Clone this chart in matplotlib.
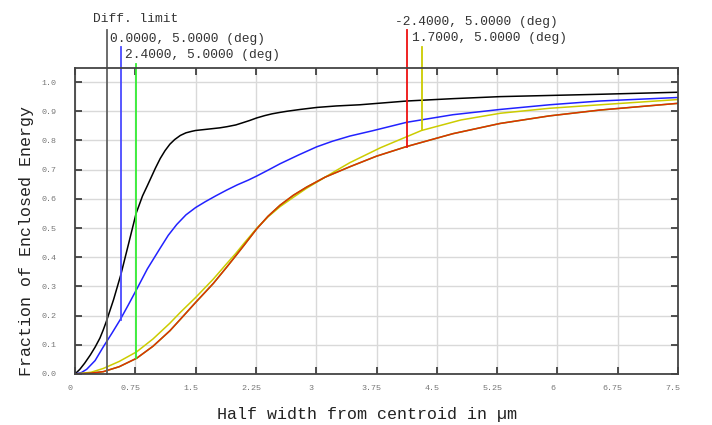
import matplotlib
matplotlib.use("Agg")
import matplotlib.pyplot as plt
import matplotlib.transforms as mtransforms

# encircled energy curves
diff_x = [0, 0.06, 0.12, 0.19, 0.25, 0.31, 0.35, 0.39, 0.48, 0.57, 0.67, 0.76, 0.84, 0.9, 0.95, 1.0,
          1.06, 1.12, 1.18, 1.24, 1.31, 1.38, 1.45, 1.5, 1.6, 1.7, 1.8, 1.89, 2.0, 2.08, 2.17, 2.26,
          2.36, 2.45, 2.55, 2.64, 2.8, 3.01, 3.25, 3.54, 4.13, 4.7, 5.29, 6.53, 7.5]
diff_y = [0, 0.016, 0.037, 0.065, 0.092, 0.123, 0.15, 0.18, 0.255, 0.34, 0.45, 0.55, 0.61, 0.645, 0.675, 0.705,
          0.738, 0.765, 0.787, 0.803, 0.817, 0.826, 0.831, 0.834, 0.837, 0.84, 0.843, 0.847, 0.853, 0.86, 0.868, 0.877,
          0.885, 0.891, 0.896, 0.90, 0.906, 0.913, 0.918, 0.922, 0.935, 0.943, 0.95, 0.958, 0.965]

f0_x = [0, 0.08, 0.145, 0.25, 0.352, 0.46, 0.56, 0.66, 0.767, 0.9, 1.057, 1.16, 1.265, 1.38, 1.5, 1.62, 1.75,
        1.887, 2.02, 2.155, 2.26, 2.4, 2.55, 2.78, 3.006, 3.2, 3.42, 3.7, 4.125, 4.7, 5.286, 5.9, 6.53, 7.5]
f0_y = [0, 0.005, 0.016, 0.046, 0.093, 0.14, 0.185, 0.235, 0.29, 0.36, 0.43, 0.475, 0.512, 0.545, 0.57, 0.59, 0.61,
        0.63, 0.648, 0.664, 0.678, 0.698, 0.72, 0.75, 0.778, 0.797, 0.815, 0.833, 0.862, 0.888, 0.906, 0.922, 0.935, 0.947]

f17_x = [0, 0.2, 0.352, 0.55, 0.767, 0.97, 1.18, 1.306, 1.5, 1.72, 1.887, 2.0, 2.1, 2.26, 2.4, 2.55,
         2.715, 2.88, 3.05, 3.25, 3.42, 3.8, 4.31, 4.8, 5.29, 5.9, 6.53, 7.5]
f17_y = [0, 0.006, 0.019, 0.043, 0.076, 0.12, 0.174, 0.21, 0.262, 0.325, 0.378, 0.413, 0.447, 0.499, 0.538, 0.573,
         0.605, 0.636, 0.664, 0.697, 0.724, 0.775, 0.834, 0.87, 0.893, 0.91, 0.922, 0.94]

f24_x = [0, 0.2, 0.352, 0.55, 0.767, 0.97, 1.18, 1.306, 1.5, 1.72, 1.887, 2.0, 2.1, 2.26, 2.4, 2.55,
         2.715, 2.88, 3.11, 3.42, 3.75, 4.125, 4.7, 5.286, 5.9, 6.53, 7.5]
f24_y = [0, 0.003, 0.008, 0.025, 0.054, 0.095, 0.148, 0.186, 0.245, 0.31, 0.366, 0.405, 0.44, 0.497, 0.54, 0.578,
         0.612, 0.64, 0.674, 0.71, 0.746, 0.779, 0.823, 0.858, 0.884, 0.904, 0.927]

# marker lines: x, bottom, top
marks = {
    "diff": (0.40, 0.0, 1.178),
    "f0": (0.57, 0.185, 1.12),
    "f24": (0.76, 0.054, 1.062),
    "fm24": (4.13, 0.779, 1.178),
    "f17": (4.32, 0.834, 1.12),
}
labels = {
    "diff": "Diff. limit",
    "f0": "0.0000, 5.0000 (deg)",
    "f24": "2.4000, 5.0000 (deg)",
    "fm24": "-2.4000, 5.0000 (deg)",
    "f17": "1.7000, 5.0000 (deg)",
}
label_pos = {
    "diff": (0.224, 1.216),
    "f0": (0.435, 1.147),
    "f24": (0.622, 1.092),
    "fm24": (3.98, 1.205),
    "f17": (4.19, 1.150),
}
colors = {
    "diff": "#000000",
    "f0": "#2222ff",
    "f24": "#55cc22",
    "fm24": "#e03000",
    "f17": "#cccc00",
}
mark_colors = {
    "diff": "#606060",
    "f0": "#4a4aff",
    "f24": "#33ee33",
    "fm24": "#ee1111",
    "f17": "#cccc00",
}

plt.rcParams['font.family'] = ['Liberation Mono', 'DejaVu Sans Mono']

fig = plt.figure(figsize=(7.12, 4.25), dpi=100)
ax = fig.add_axes([75 / 712, 51 / 425, 603 / 712, 306 / 425])

ax.plot(diff_x, diff_y, color=colors["diff"], lw=1.1)
ax.plot(f0_x, f0_y, color=colors["f0"], lw=1.1)
ax.plot(f17_x, f17_y, color=colors["f17"], lw=1.1)
ax.plot(f24_x, f24_y, color=colors["f24"], lw=1.1)
ax.plot(f24_x, f24_y, color=colors["fm24"], lw=1.1)

for k, (x, y0, y1) in marks.items():
    ax.plot([x, x], [y0, y1], color=mark_colors[k], lw=1.3, clip_on=False)
    tx, ty = label_pos[k]
    ax.text(tx, ty, labels[k], fontsize=9.3, color='#333333', ha='left', va='center', clip_on=False)

ax.set_xlim(0, 7.5)
ax.set_ylim(0, 1.048)
ax.set_xticks([0, 0.75, 1.5, 2.25, 3, 3.75, 4.5, 5.25, 6, 6.75, 7.5])
ax.set_xticklabels(['0', '0.75', '1.5', '2.25', '3', '3.75', '4.5', '5.25', '6', '6.75', '7.5'])
ax.set_yticks([i / 10 for i in range(11)])
ax.set_yticklabels(['%.1f' % (i / 10) for i in range(11)])
ax.tick_params(direction='in', length=5, width=1.2, color='#333333', labelsize=6,
               labelcolor='#777777', top=True, right=True, pad=8)
ax.tick_params(axis='y', pad=13)
offset = mtransforms.ScaledTranslation(-5 / 100, 0, fig.dpi_scale_trans)
for lab in ax.get_xticklabels():
    lab.set_transform(lab.get_transform() + offset)

ax.grid(True, color='#d9d9d9', lw=1.0)
ax.set_axisbelow(True)
for s in ax.spines.values():
    s.set_color('#444444')
    s.set_linewidth(1.3)

ax.set_xlabel('Half width from centroid in µm', fontsize=12, color='#222222')
ax.xaxis.set_label_coords(0.484, -0.108)
ax.set_ylabel('Fraction of Enclosed Energy', fontsize=12, color='#222222')
ax.yaxis.set_label_coords(-0.068, 0.435)

fig.savefig('out.png', dpi=100)
